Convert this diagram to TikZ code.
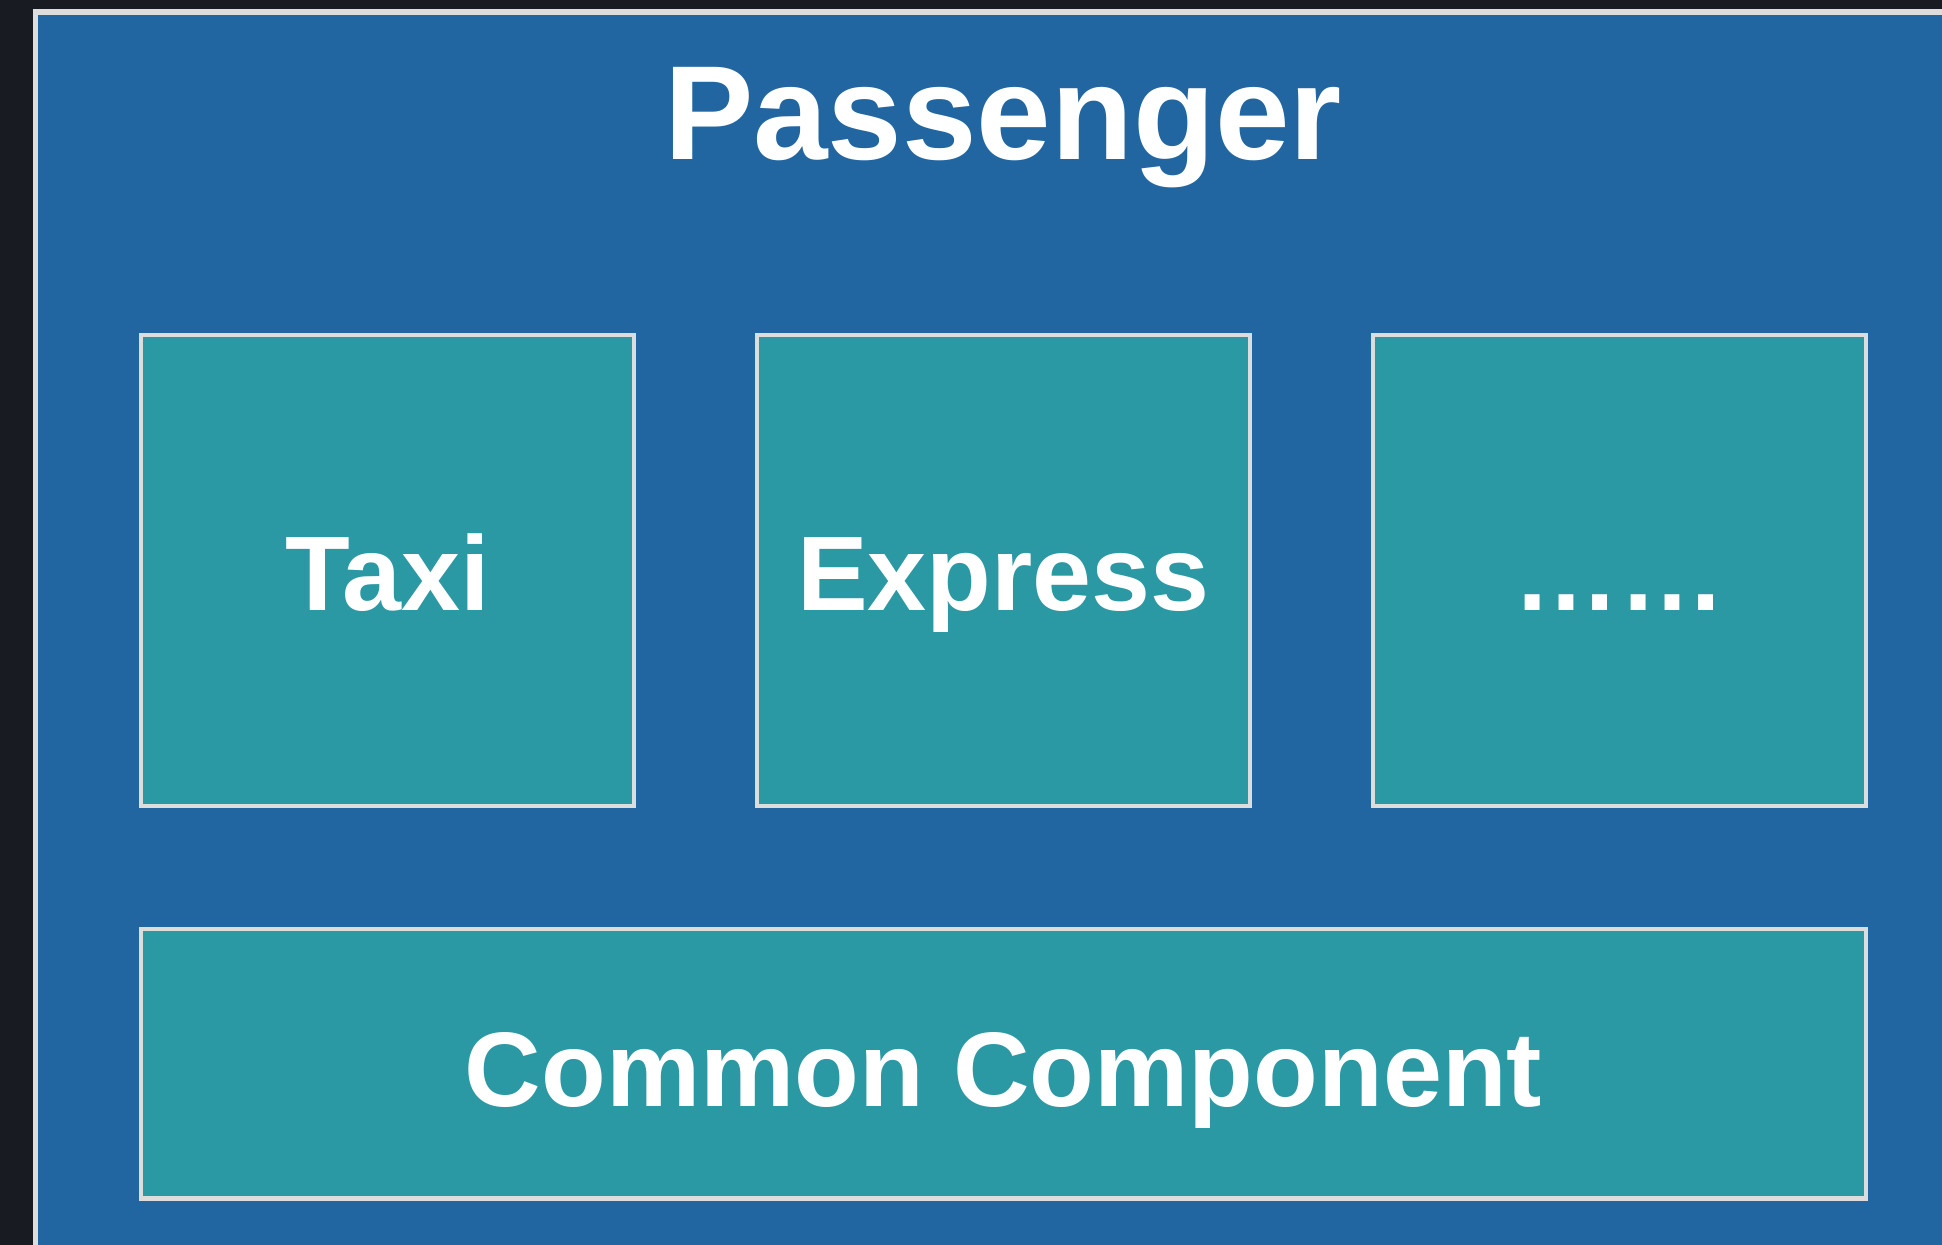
\documentclass[tikz,border=0pt]{standalone}
\usepackage{fontspec}
\setmainfont{Liberation Sans}
\definecolor{bgdark}{HTML}{181B22}
\definecolor{panelblue}{HTML}{2166A1}
\definecolor{boxteal}{HTML}{2A99A4}
\definecolor{edgegray}{HTML}{DDDDDD}
\tikzset{
  frame/.style={draw=edgegray, line width=2.6pt, fill=panelblue},
  modbox/.style={draw=edgegray, line width=2.4pt, fill=boxteal},
  lbl/.style={text=white, font=\fontsize{53pt}{60pt}\selectfont\bfseries, anchor=base, inner sep=0pt},
  ttl/.style={text=white, font=\fontsize{67pt}{76pt}\selectfont\bfseries, anchor=base, inner sep=0pt}
}
\begin{document}
\begin{tikzpicture}[x=0.5pt,y=-0.5pt]
\useasboundingbox (0,0) rectangle (1942,1245);
\fill[bgdark] (0,0) rectangle (1942,1245);
\begin{scope}
\clip (0,0) rectangle (1942,1245);
\draw[frame] (35.5,12) rectangle (1970,1270);
\end{scope}
\node[ttl] (title) at (1003,160) {Passenger};
\draw[modbox] (141,335) rectangle (634,806);
\draw[modbox] (757,335) rectangle (1250,806);
\draw[modbox] (1373,335) rectangle (1866,806);
\draw[modbox] (141,929) rectangle (1866,1198.5);
\node[lbl] (taxi) at (387.5,610) {Taxi};
\node[lbl] (express) at (1003.5,610) {Express};
\node[lbl] (more) at (1619.5,610) {……};
\node[lbl] (common) at (1003.5,1106) {Common Component};
\end{tikzpicture}
\end{document}
